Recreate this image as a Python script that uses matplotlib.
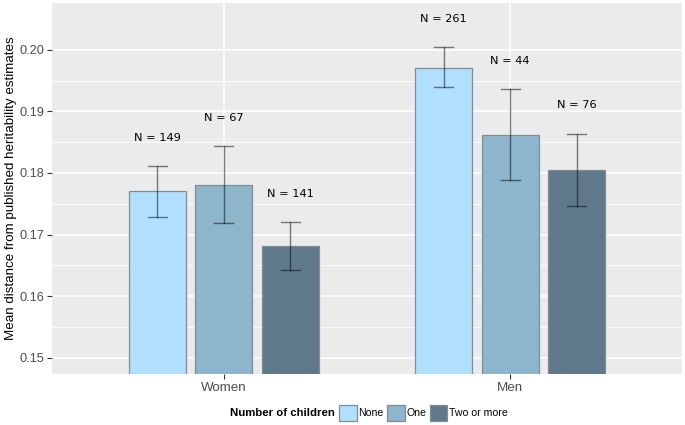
import matplotlib
matplotlib.use("Agg")
import matplotlib.pyplot as plt
import numpy as np
from matplotlib.patches import Patch

groups = ["Women", "Men"]
children = ["None", "One", "Two or more"]
means = {
    "None": [0.1770, 0.1971],
    "One": [0.1781, 0.1862],
    "Two or more": [0.1681, 0.1805],
}
err_low = {
    "None": [0.1729, 0.1939],
    "One": [0.1718, 0.1789],
    "Two or more": [0.1642, 0.1746],
}
err_high = {
    "None": [0.1811, 0.2004],
    "One": [0.1844, 0.1936],
    "Two or more": [0.1720, 0.1864],
}
n_labels = {
    "None": ["N = 149", "N = 261"],
    "One": ["N = 67", "N = 44"],
    "Two or more": ["N = 141", "N = 76"],
}
colors = {"None": "#B0E0FD", "One": "#8DB5CB", "Two or more": "#5F798B"}
yticks = [0.15, 0.16, 0.17, 0.18, 0.19, 0.20]

fig = plt.figure(figsize=(6.85, 4.25), dpi=100)
ax = fig.add_axes([52/685, 1-374/425, 630/685, 371/425])
ax.set_facecolor("#EBEBEB")
for s in ax.spines.values():
    s.set_visible(False)

xc = np.array([1, 2])
offsets = [-0.2325, 0.0, 0.2325]
bw = 0.2
cap = 0.033
for off, c in zip(offsets, children):
    x = xc + off
    ax.bar(x, np.array(means[c]) - 0.14, bottom=0.14, width=bw, color=colors[c],
           edgecolor="#7F8C95", linewidth=0.9, zorder=3)
    for xi, lo, hi, lab in zip(x, err_low[c], err_high[c], n_labels[c]):
        ax.plot([xi, xi], [lo, hi], color="black", alpha=0.5, lw=1.0, zorder=4)
        ax.plot([xi-cap, xi+cap], [lo, lo], color="black", alpha=0.5, lw=1.0, zorder=4)
        ax.plot([xi-cap, xi+cap], [hi, hi], color="black", alpha=0.5, lw=1.0, zorder=4)
        ax.text(xi, hi + 0.0046, lab, ha="center", va="center", fontsize=8.2,
                family="DejaVu Sans", color="black", zorder=5)

ax.set_yticks(yticks)
ax.set_yticklabels([f"{t:.2f}" for t in yticks], family="Liberation Sans",
                   fontsize=9.2, color="#4D4D4D")
ax.set_yticks([t + 0.005 for t in yticks[:-1]], minor=True)
ax.set_xticks(xc)
ax.set_xticklabels(groups, family="Liberation Sans", fontsize=9.6, color="#4D4D4D")
ax.set_xlim(0.4, 2.6)
ax.set_ylim(0.14735, 0.2076)
ax.tick_params(axis="both", which="major", length=3.5, width=0.8, color="#333333", pad=2)
ax.tick_params(axis="y", which="minor", length=0)
ax.grid(True, which="major", color="white", lw=1.1, zorder=0)
ax.grid(True, which="minor", axis="y", color="white", lw=0.55, zorder=0)
ax.set_axisbelow(True)
ax.set_ylabel("Mean distance from published heritability estimates",
              family="Liberation Sans", fontsize=9.6, color="black", labelpad=1.5)

handles = [Patch(facecolor=colors[c], edgecolor="#7F8C95", linewidth=0.9, label=c)
           for c in children]
leg = fig.legend(handles=handles, loc="center left", bbox_to_anchor=(339/685, 1-413/425),
                 ncol=3, frameon=False, prop={"family": "Liberation Sans", "size": 7.6},
                 handlelength=1.7, handleheight=2.0, handletextpad=0.15,
                 columnspacing=0.3, borderaxespad=0, borderpad=0)
fig.text(335/685, 1-413/425, "Number of children", ha="right", va="center",
         family="Liberation Sans", fontsize=8.2, fontweight="bold")

fig.savefig("out.png", dpi=100, facecolor="white")
